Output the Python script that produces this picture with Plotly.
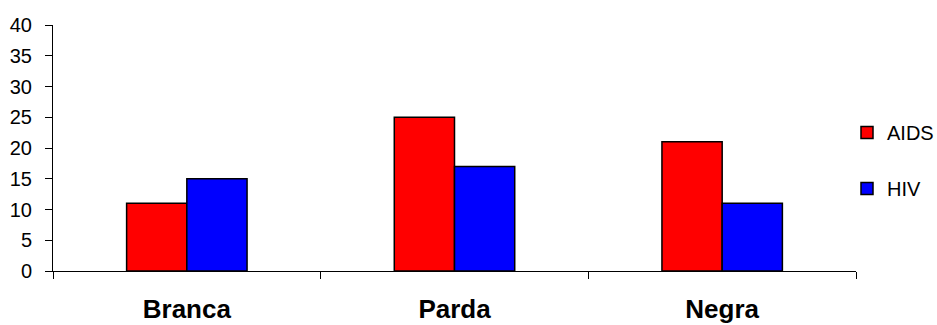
import plotly.graph_objects as go

categories = ["Branca", "Parda", "Negra"]
aids = [11, 25, 21]
hiv = [15, 17, 11]
y_ticks = [0, 5, 10, 15, 20, 25, 30, 35, 40]

FONT = "Liberation Sans, Arial, sans-serif"

fig = go.Figure()
fig.add_trace(go.Bar(x=categories, y=aids, name="AIDS", legendgroup="a",
                     marker=dict(color="#ff0000", line=dict(color="black", width=1.5))))
fig.add_trace(go.Bar(x=categories, y=hiv, name="HIV", legendgroup="b",
                     marker=dict(color="#0000ff", line=dict(color="black", width=1.5))))

fig.update_layout(
    width=937, height=325,
    margin=dict(l=53, r=81, t=25, b=54, autoexpand=False),
    paper_bgcolor="white", plot_bgcolor="white",
    barmode="group", bargap=0.55, bargroupgap=0,
    font=dict(family=FONT, color="black"),
    showlegend=True,
    legend=dict(xref="container", yref="container",
                x=847 / 937, xanchor="left", y=1 - 113 / 325, yanchor="top",
                traceorder="grouped", tracegroupgap=27,
                font=dict(size=20), bgcolor="rgba(0,0,0,0)"),
    xaxis=dict(showline=True, linecolor="black", linewidth=1,
               ticks="outside", tickson="boundaries", ticklen=7, tickcolor="black",
               tickfont=dict(size=26, family=FONT), ticklabelstandoff=15,
               showgrid=False),
    yaxis=dict(range=[0, 40], tickvals=y_ticks, showline=True, linecolor="black",
               linewidth=1, ticks="outside", ticklen=7, tickcolor="black",
               tickfont=dict(size=20), ticklabelstandoff=9,
               showgrid=False, zeroline=False),
)
fig.update_xaxes(tickprefix="<b>", ticksuffix="</b>")
fig.write_html("out.html")
